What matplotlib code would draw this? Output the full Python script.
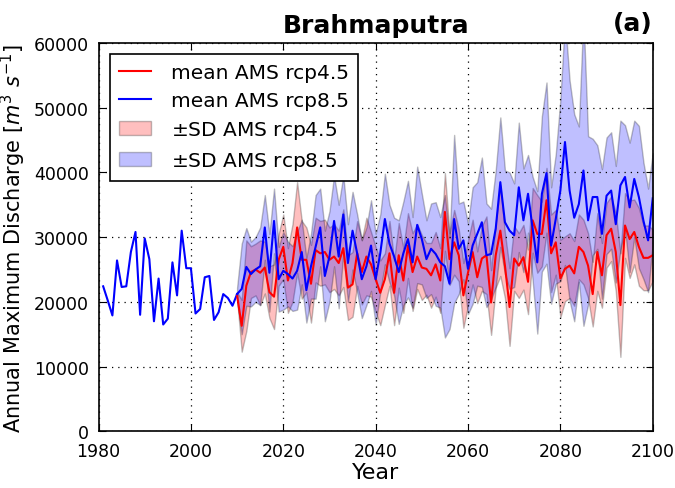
import numpy as np
import matplotlib
matplotlib.use("Agg")
import matplotlib.pyplot as plt

# historical annual maximum discharge (m3/s)
hist_years = np.arange(1981, 2010)
hist_ams = [22.4, 20.2, 17.9, 26.4, 22.3, 22.4, 27.7, 30.8, 18.0, 29.8,
            26.6, 17.0, 23.6, 16.5, 17.4, 26.1, 21.0, 31.0, 25.2, 25.2,
            18.2, 18.9, 23.8, 24.0, 17.2, 18.4, 21.2, 20.6, 19.4]

# projections 2010-2100
proj_years = np.arange(2010, 2101)
mean45 = [21.0, 16.3, 22.5, 24.6, 25.0, 24.5, 25.3, 21.5, 20.8, 26.5,
          28.5, 23.3, 26.0, 31.5, 26.5, 26.5, 22.8, 28.0, 27.5, 27.7,
          26.5, 27.0, 26.0, 28.3, 22.2, 22.7, 27.5, 24.6, 27.0, 25.8,
          23.5, 21.4, 23.5, 27.5, 21.4, 27.2, 23.3, 28.7, 24.6, 27.0,
          25.3, 25.1, 24.1, 25.8, 23.3, 33.9, 26.6, 29.2, 27.2, 21.0,
          24.5, 27.7, 23.8, 26.7, 27.2, 19.9, 27.2, 31.0, 25.6, 19.2,
          26.7, 25.6, 26.9, 23.1, 32.6, 30.5, 30.5, 35.7, 27.5, 29.2,
          23.6, 25.1, 25.6, 24.4, 28.5, 27.7, 25.6, 21.2, 27.7, 24.1,
          30.3, 31.3, 27.7, 19.5, 31.8, 29.7, 30.8, 28.5, 26.8, 26.8,
          27.2]
mean85 = [21.2, 22.0, 25.4, 24.3, 25.0, 25.5, 31.5, 24.5, 32.5, 23.5,
          24.8, 24.3, 23.6, 24.8, 27.7, 21.8, 25.5, 28.5, 31.5, 24.0,
          27.0, 32.5, 27.0, 33.5, 26.0, 31.0, 27.5, 23.5, 25.5, 28.7,
          23.5, 27.5, 32.8, 29.0, 27.0, 24.6, 27.5, 29.7, 26.1, 31.9,
          29.7, 26.6, 28.2, 27.4, 26.1, 25.5, 22.8, 32.8, 28.2, 29.5,
          25.1, 28.7, 30.5, 32.3, 27.2, 27.4, 31.3, 38.5, 32.3, 31.0,
          30.3, 37.7, 32.6, 36.7, 31.3, 26.1, 36.7, 39.9, 28.7, 32.8,
          37.2, 44.7, 37.2, 33.0, 35.1, 40.3, 32.6, 36.2, 36.2, 30.5,
          36.4, 37.2, 32.0, 38.0, 39.3, 34.6, 39.0, 36.2, 32.5, 29.5,
          36.0]
sd45 = [0.5, 4, 7, 4, 4, 5, 4, 4, 5, 4,
        5, 5, 6, 7, 6, 5, 6, 5, 5, 5,
        5, 5, 5, 6, 5, 5, 5, 5, 6, 5,
        5, 5, 4, 5, 5, 5, 5, 5, 6, 5,
        5, 4, 5, 5, 5, 6, 4, 5, 4, 5,
        5, 5, 4, 5, 6, 5, 5, 7, 5, 6,
        5, 5, 5, 5, 5, 6, 5, 5, 6, 5,
        6, 5, 5, 5, 5, 5, 5, 5, 6, 5,
        5, 5, 6, 8, 5, 6, 5, 6, 5, 5,
        4]
sd85 = [1.0, 7, 6, 5, 5, 6, 5, 6, 5, 5,
        6, 5, 5, 6, 5, 5, 5, 8, 6, 7,
        7, 7, 8, 6, 6, 6, 6, 6, 6, 7,
        7, 6, 7, 6, 6, 8, 8, 9, 7, 9,
        7, 6, 7, 8, 7, 11, 7, 13, 7, 6,
        7, 9, 8, 10, 8, 7, 9, 10, 8, 9,
        8, 10, 8, 6, 8, 11, 12, 14, 9, 10,
        14, 19, 17, 16, 12, 24, 13, 9, 8, 10,
        9, 9, 9, 10, 8, 10, 9, 11, 9, 8,
        7]

k = 1000.0
m45 = np.array(mean45) * k
m85 = np.array(mean85) * k
s45 = np.array(sd45) * k
s85 = np.array(sd85) * k

plt.rcParams['font.family'] = 'DejaVu Sans'
fig = plt.figure(figsize=(6.75, 4.89), dpi=100)
ax = fig.add_axes([0.146, 0.116, 0.821, 0.794])

ax.plot(np.append(hist_years, 2010), np.append(np.array(hist_ams) * k, m85[0]), color='b', lw=1.5)
ax.fill_between(proj_years, m45 - s45, m45 + s45, facecolor='r', edgecolor='k', alpha=0.25,
                label=r'$\pm$SD AMS rcp4.5')
ax.fill_between(proj_years, m85 - s85, m85 + s85, facecolor='b', edgecolor='k', alpha=0.25,
                label=r'$\pm$SD AMS rcp8.5')
ax.plot(proj_years, m45, color='r', lw=1.5, label='mean AMS rcp4.5')
ax.plot(proj_years, m85, color='b', lw=1.5, label='mean AMS rcp8.5')

ax.set_xlim(1980, 2100)
ax.set_ylim(0, 60000)
ax.set_xticks(np.arange(1980, 2101, 20))
ax.set_yticks(np.arange(0, 60001, 10000))
ax.grid(True, color='k', linestyle=(0, (1, 4)), linewidth=0.9)
ax.tick_params(direction='in', top=True, right=True, labelsize=12.5, length=5)
ax.tick_params(axis='x', pad=8)
ax.tick_params(axis='y', pad=7)
for s in ax.spines.values():
    s.set_linewidth(1.2)

ax.set_xlabel('Year', fontsize=16, labelpad=1)
ax.set_ylabel(r'Annual Maximum Discharge [$m^3\ s^{-1}$]', fontsize=15, labelpad=4)
ax.set_title('Brahmaputra', fontsize=18, fontweight='bold', pad=8)
ax.text(1.0, 1.02, '(a)', transform=ax.transAxes, ha='right', va='bottom',
        fontsize=18, fontweight='bold')

h, l = ax.get_legend_handles_labels()
order = [2, 3, 0, 1]
leg = ax.legend([h[i] for i in order], [l[i] for i in order], loc='upper left',
                fontsize=14.5, fancybox=False, framealpha=1, edgecolor='k',
                borderaxespad=0.55, handlelength=1.6, handletextpad=1.0,
                labelspacing=0.45, borderpad=0.45)
leg.get_frame().set_linewidth(1.2)

fig.savefig('out.png', dpi=100, facecolor='white')
